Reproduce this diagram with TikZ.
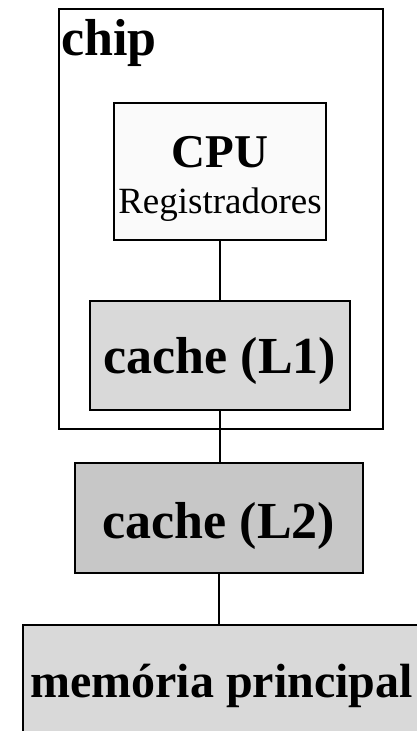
\documentclass[tikz,border=0pt]{standalone}
\usepackage{fontspec}
\setmainfont{Liberation Serif}
\begin{document}
\begin{tikzpicture}[x=1pt,y=-1pt,
  box/.style={draw, line width=2pt, rectangle, inner sep=0pt},
  wire/.style={line width=2pt},
  txt/.style={anchor=base, inner sep=0pt},
  big/.style={font=\fontsize{52}{52}\selectfont\bfseries}]
\useasboundingbox (0,0) rectangle (417,731);
% chip enclosure
\node[box, line width=2.2pt, minimum width=324pt, minimum height=420pt] (chip) at (221,219) {};
\node[txt, anchor=base west, font=\fontsize{52}{52}\selectfont\bfseries] (chiplbl) at (61,55) {chip};
% CPU with registers
\node[box, fill=black!2, minimum width=212pt, minimum height=137pt] (cpu) at (220,171.5) {};
\node[txt, font=\fontsize{47}{47}\selectfont\bfseries] (cputxt) at (220,167) {CPU};
\node[txt, font=\fontsize{37}{37}\selectfont] (regtxt) at (220,213) {Registradores};
% first-level cache
\node[box, fill=black!15, minimum width=260pt, minimum height=109pt] (l1) at (220,355.5) {};
\node[txt, big] (l1txt) at (220,373) {cache (L1)};
% second-level cache
\node[box, fill=black!22, minimum width=288pt, minimum height=110pt] (l2) at (219,518) {};
\node[txt, big] (l2txt) at (219,538) {cache (L2)};
% main memory
\node[box, fill=black!15, minimum width=398pt, minimum height=145pt] (mem) at (222,697.5) {};
\node[txt, font=\fontsize{48}{48}\selectfont\bfseries] (memtxt) at (221.5,697) {memória principal};
% connections
\draw[wire] (cpu.south) -- (l1.north);
\draw[wire] (l1.south) -- (l1.south |- l2.north);
\draw[wire] (l2.south) -- (l2.south |- mem.north);
\end{tikzpicture}
\end{document}
